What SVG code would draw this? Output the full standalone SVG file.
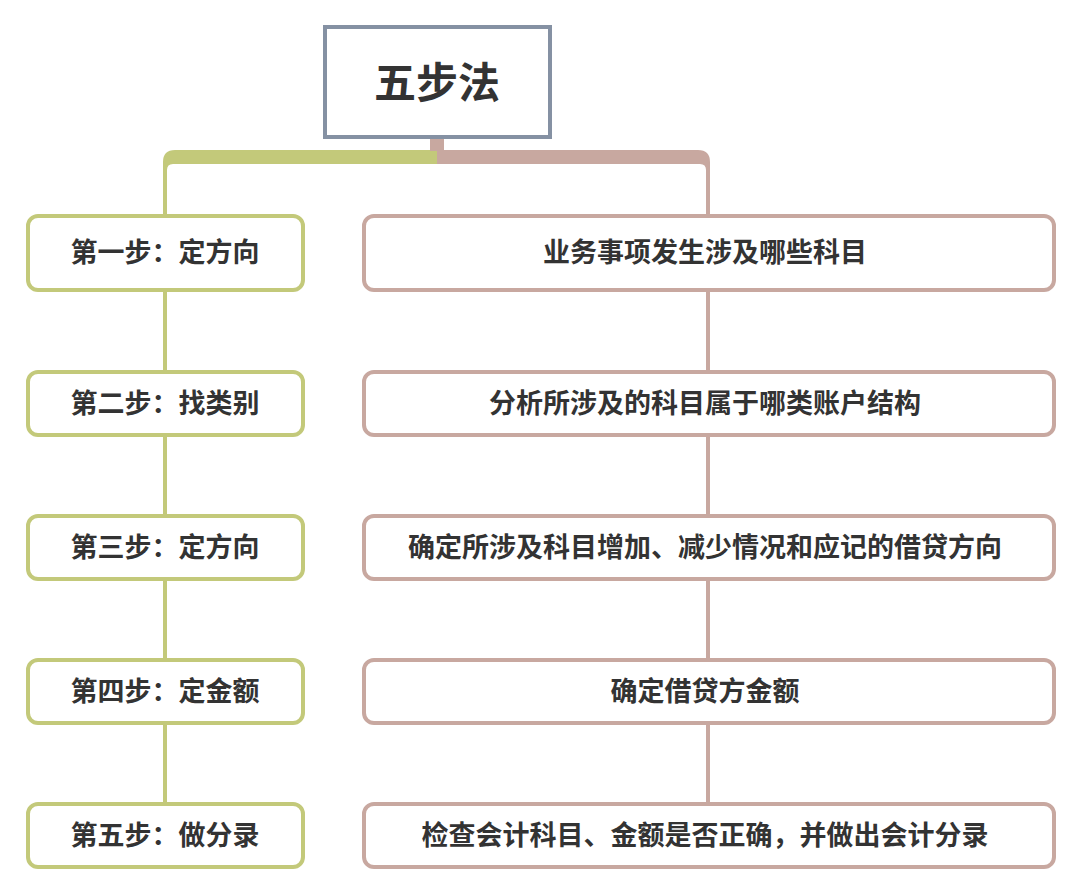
<svg xmlns="http://www.w3.org/2000/svg" width="1080" height="892" viewBox="0 0 1080 892">
<style>
text{font-family:"Noto Sans CJK SC",sans-serif;font-weight:bold;fill:#333;text-anchor:middle;dominant-baseline:central}
.l rect{fill:#fff;stroke:#c3c97a;stroke-width:4}
.r rect{fill:#fff;stroke:#c8a8a0;stroke-width:4}
.t{font-size:27px}
</style>
<rect width="1080" height="892" fill="#fff"/>
<g id="connectors">
<path d="M163,216 V162 Q163,150 175,150 H437 V164 H173 Q167,164 167,170 V216 Z" fill="#c3c97a"/>
<path d="M437,150 H698 Q710,150 710,162 V216 H706 V170 Q706,164 700,164 H437 Z" fill="#c8a8a0"/>
<rect x="430" y="136" width="14" height="15" fill="#c8a8a0"/>
<g stroke="#c3c97a" stroke-width="4"><line x1="165" y1="290" x2="165" y2="372"/><line x1="165" y1="435" x2="165" y2="516"/><line x1="165" y1="579" x2="165" y2="660"/><line x1="165" y1="723" x2="165" y2="804"/></g>
<g stroke="#c8a8a0" stroke-width="4"><line x1="708" y1="290" x2="708" y2="372"/><line x1="708" y1="435" x2="708" y2="516"/><line x1="708" y1="579" x2="708" y2="660"/><line x1="708" y1="723" x2="708" y2="804"/></g>
</g>
<g id="title"><rect x="325" y="27" width="225" height="110" fill="#fff" stroke="#8591a3" stroke-width="4"/><text x="437" y="79" font-size="42">五步法</text></g>
<g id="s1" class="l"><rect x="28" y="216" width="275" height="74" rx="10"/><text class="t" x="165" y="250">第一步：定方向</text></g>
<g id="s2" class="l"><rect x="28" y="372" width="275" height="63" rx="10"/><text class="t" x="165" y="401">第二步：找类别</text></g>
<g id="s3" class="l"><rect x="28" y="516" width="275" height="63" rx="10"/><text class="t" x="165" y="545">第三步：定方向</text></g>
<g id="s4" class="l"><rect x="28" y="660" width="275" height="63" rx="10"/><text class="t" x="165" y="689">第四步：定金额</text></g>
<g id="s5" class="l"><rect x="28" y="804" width="275" height="63" rx="10"/><text class="t" x="165" y="833">第五步：做分录</text></g>
<g id="d1" class="r"><rect x="364" y="216" width="690" height="74" rx="10"/><text class="t" x="705" y="250">业务事项发生涉及哪些科目</text></g>
<g id="d2" class="r"><rect x="364" y="372" width="690" height="63" rx="10"/><text class="t" x="705" y="401">分析所涉及的科目属于哪类账户结构</text></g>
<g id="d3" class="r"><rect x="364" y="516" width="690" height="63" rx="10"/><text class="t" x="705" y="545">确定所涉及科目增加、减少情况和应记的借贷方向</text></g>
<g id="d4" class="r"><rect x="364" y="660" width="690" height="63" rx="10"/><text class="t" x="705" y="689">确定借贷方金额</text></g>
<g id="d5" class="r"><rect x="364" y="804" width="690" height="63" rx="10"/><text class="t" x="705" y="833">检查会计科目、金额是否正确，并做出会计分录</text></g>
</svg>
